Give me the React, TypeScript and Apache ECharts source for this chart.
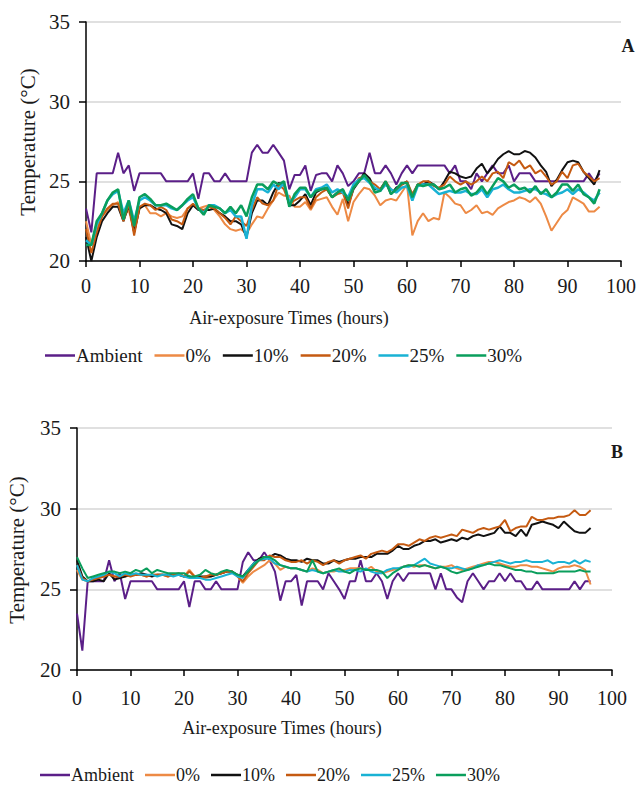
import { useEffect, useRef } from "react";
import * as echarts from "echarts";

// hourly readings, 0..96 h
const hours: number[] = Array.from({ length: 97 }, (_, i) => i);

const seriesNames = ["Ambient", "0%", "10%", "20%", "25%", "30%"];
const seriesColors = ["#5b1f88", "#ed8a45", "#111111", "#c55a11", "#19b2d4", "#0a9e5c"];

const xTicks = [0, 10, 20, 30, 40, 50, 60, 70, 80, 90, 100];
const yTicks = [20, 25, 30, 35];

// Panel A
const aAmbient = [
  23.3, 21.8, 25.5, 25.5, 25.5, 25.5, 26.8, 25.5, 26.0, 24.4,
  25.5, 25.5, 25.5, 25.5, 25.5, 25.0, 25.0, 25.0, 25.0, 25.0,
  25.5, 23.9, 25.5, 25.5, 25.0, 25.0, 25.5, 25.0, 25.0, 25.0,
  25.0, 26.8, 27.3, 26.8, 26.8, 27.3, 26.8, 26.3, 24.5, 25.4,
  25.4, 26.0, 24.4, 25.4, 25.5, 25.5, 25.0, 26.0, 25.5, 24.7,
  25.0, 25.5, 25.5, 26.8, 25.5, 25.5, 26.0, 25.5, 24.8, 25.5,
  26.0, 25.5, 26.0, 26.0, 26.0, 26.0, 26.0, 26.0, 25.5, 26.0,
  25.0, 25.0, 24.5, 25.5, 25.0, 25.5, 26.0, 25.5, 25.5, 26.0,
  25.0, 25.5, 25.5, 25.5, 25.0, 25.0, 25.0, 25.0, 25.0, 25.0,
  25.0, 25.0, 25.0, 25.0, 25.5, 25.0, 25.5,
];
const a0 = [
  22.5, 21.0, 22.0, 22.8, 23.2, 23.5, 23.7, 22.8, 23.2, 21.8,
  23.3, 23.5, 23.0, 23.0, 22.8, 23.0, 22.8, 22.7, 22.8, 23.3,
  23.5, 23.3, 23.4, 23.5, 23.2, 22.8, 22.3, 22.0, 21.9, 22.0,
  21.7, 22.3, 22.8, 22.7, 23.3, 23.8, 24.3, 24.1, 24.1, 23.4,
  23.4, 23.7, 23.2, 23.8, 23.9, 24.0, 23.4, 22.9, 23.9, 22.5,
  23.7, 24.2, 24.6, 24.5, 24.1, 23.5, 23.8, 23.9, 23.8, 24.3,
  24.8, 21.6, 22.5, 23.0, 22.5, 22.7, 22.6, 24.3, 24.0, 23.6,
  23.5, 23.0, 23.2, 23.5, 23.0, 23.1, 22.9, 23.3, 23.5, 23.7,
  23.8, 24.0, 23.9, 23.7, 24.0, 23.6, 22.8, 21.9, 22.4, 22.9,
  23.2, 24.0, 23.8, 23.6, 23.1, 23.1, 23.4,
];
const a10 = [
  21.5, 20.0, 21.5, 22.5, 23.0, 23.4, 23.4, 22.5, 23.5, 21.8,
  23.3, 23.5, 23.5, 23.3, 23.2, 23.0, 22.3, 22.2, 22.0, 23.0,
  23.5, 23.2, 23.2, 23.2, 23.3, 23.0, 22.8, 22.5, 22.5, 22.3,
  21.5, 23.0, 23.8, 23.8, 23.5, 24.3, 24.9, 24.8, 23.5, 23.5,
  23.8, 24.2, 23.5, 24.3, 24.5, 24.5, 24.0, 24.3, 24.5, 23.5,
  24.5, 25.0, 25.5, 25.2, 24.5, 24.5, 25.0, 24.2, 24.6, 24.8,
  25.0, 24.0, 24.8, 24.8, 25.0, 24.8, 24.5, 25.0, 25.6, 25.5,
  25.3, 25.2, 25.3, 25.8, 26.1, 25.5, 25.9, 26.4, 26.7, 26.9,
  26.7, 26.7, 26.9, 26.8, 26.5, 26.0, 25.6, 24.7, 25.1, 25.7,
  26.2, 26.3, 26.2, 25.6, 25.2, 24.8, 25.7,
];
const a20 = [
  22.0, 20.5, 21.8, 22.8, 23.3, 23.6, 23.6, 22.5, 23.6, 21.6,
  23.4, 23.6, 23.5, 23.2, 23.4, 23.2, 22.6, 22.5, 22.3, 23.3,
  23.6, 23.3, 23.2, 23.4, 23.3, 23.0, 22.7, 22.3, 22.8, 22.5,
  22.2, 23.2, 24.0, 23.6, 23.5, 23.8, 24.8, 24.5, 23.6, 23.8,
  24.0, 24.0, 23.3, 24.0, 24.3, 24.5, 24.0, 24.2, 24.3, 23.3,
  24.6, 25.2, 25.3, 25.0, 24.8, 24.5, 25.0, 24.5, 24.3, 24.8,
  25.0, 24.2, 24.8, 25.0, 25.0, 24.7, 24.6, 24.8, 25.3, 25.0,
  24.8, 25.0, 24.8, 25.0, 25.3, 25.0, 25.5, 25.6, 25.2, 26.2,
  26.0, 26.3, 25.8, 26.0, 25.5, 25.7, 25.3, 24.8, 25.0, 25.6,
  25.2, 26.0, 26.1, 25.6, 25.3, 25.0, 25.2,
];
const a25 = [
  21.3, 21.0, 22.3, 23.0, 23.8, 24.2, 24.4, 23.0, 23.8, 22.5,
  23.8, 24.0, 23.8, 23.5, 23.5, 23.5, 23.3, 23.2, 23.5, 23.8,
  24.0, 23.3, 23.0, 23.5, 23.5, 23.3, 23.0, 23.2, 22.8, 22.8,
  21.4, 23.5, 24.5, 24.5, 24.3, 24.8, 24.5, 24.9, 23.7, 24.0,
  24.5, 24.5, 24.0, 24.5, 24.6, 24.8, 24.3, 24.5, 24.3, 24.0,
  24.8, 25.1, 25.2, 24.9, 24.6, 24.4, 24.8, 24.5, 24.3, 24.6,
  24.7, 23.8, 24.7, 24.8, 24.8, 24.5, 24.2, 24.3, 24.4, 24.3,
  24.3, 24.4, 24.2, 24.2, 24.5, 24.0, 24.5, 24.6, 24.8, 24.5,
  24.3, 24.3, 24.4, 24.5, 24.5, 24.3, 24.2, 24.0, 24.2, 24.3,
  24.5, 24.2, 24.5, 24.3, 24.0, 23.8, 24.3,
];
const a30 = [
  21.0, 21.0, 22.5, 23.0, 23.8, 24.3, 24.5, 22.6, 23.8, 22.2,
  24.0, 24.2, 23.9, 23.5, 23.5, 23.6, 23.4, 23.2, 23.5, 23.9,
  24.2, 23.3, 22.9, 23.5, 23.4, 23.3, 23.0, 23.4, 23.0, 23.5,
  22.8, 24.0, 24.8, 24.8, 24.5, 25.0, 24.8, 25.0, 23.4, 24.2,
  24.6, 24.6, 24.0, 24.4, 24.5, 24.6, 24.0, 24.3, 24.5, 23.8,
  24.6, 25.0, 25.4, 25.0, 24.3, 24.4, 25.0, 24.2, 24.5, 24.9,
  24.9, 24.0, 24.8, 24.7, 24.8, 24.8, 24.5, 24.6, 24.8, 24.3,
  24.5, 24.6, 24.1, 24.3, 24.7, 24.2, 24.7, 25.2, 25.0, 24.6,
  24.8, 24.5, 24.6, 24.3, 24.7, 24.2, 24.5, 24.0, 24.3, 24.8,
  24.8, 24.4, 24.8, 24.2, 24.0, 23.6, 24.5,
];

// Panel B
const bAmbient = [
  23.5, 21.2, 25.5, 25.5, 25.5, 25.5, 26.8, 25.5, 26.0, 24.4,
  25.5, 25.5, 25.5, 25.5, 25.5, 25.0, 25.0, 25.0, 25.0, 25.0,
  25.5, 23.9, 25.5, 25.5, 25.0, 25.0, 25.5, 25.0, 25.0, 25.0,
  25.0, 26.7, 27.3, 26.8, 26.8, 27.3, 26.8, 26.1, 24.3, 25.5,
  25.5, 25.9, 24.0, 25.5, 25.5, 25.5, 25.0, 26.0, 25.5, 25.0,
  24.4, 25.5, 25.5, 26.8, 25.5, 25.5, 26.0, 25.5, 24.4, 25.5,
  26.0, 25.5, 26.0, 26.0, 26.0, 26.0, 26.0, 25.0, 26.0, 25.0,
  25.0, 24.5, 24.2, 25.5, 26.0, 25.5, 25.0, 25.5, 25.5, 26.0,
  25.5, 26.0, 25.5, 25.5, 25.0, 25.0, 25.5, 25.0, 25.0, 25.0,
  25.0, 25.0, 25.0, 25.5, 25.0, 25.5, 25.5,
];
const b0 = [
  26.2, 25.6, 25.5, 25.6, 25.7, 25.8, 25.9, 25.8, 25.8, 25.8,
  25.9, 25.9, 25.9, 25.8, 25.9, 25.9, 25.9, 25.8, 25.9, 25.9,
  25.8, 26.2, 25.8, 25.7, 25.7, 25.8, 25.9, 26.0, 26.1, 26.1,
  25.8, 25.4, 25.8, 26.1, 26.3, 26.5, 26.8, 26.6, 26.2, 26.4,
  26.3, 26.3, 26.2, 26.1, 26.3, 26.2, 26.0, 26.1, 26.1, 26.2,
  26.2, 26.3, 26.3, 26.3, 26.2, 26.4, 26.1, 26.0, 26.1, 26.2,
  26.3, 26.4, 26.5, 26.4, 26.5, 26.5, 26.4, 26.3, 26.4, 26.4,
  26.5, 26.3, 26.2, 26.3, 26.4, 26.5, 26.6, 26.7, 26.7, 26.6,
  26.5, 26.4, 26.4, 26.5, 26.5, 26.4, 26.4, 26.3, 26.2, 26.1,
  26.3, 26.4, 26.4, 26.5, 26.4, 26.2, 25.3,
];
const b10 = [
  26.8, 25.8, 25.5, 25.5, 25.6, 25.5, 26.0, 25.6, 25.7, 25.8,
  25.9, 25.9, 26.0, 25.9, 25.8, 25.9, 25.9, 25.9, 25.9, 25.9,
  25.8, 25.8, 25.7, 25.8, 25.8, 25.8, 25.9, 26.0, 26.1, 26.1,
  25.9, 25.8, 26.2, 26.6, 26.9, 27.0, 27.0, 27.2, 27.1, 26.9,
  26.8, 26.8, 26.7, 26.9, 26.8, 26.8, 26.6, 26.6, 26.8, 26.7,
  26.8, 26.9, 26.9, 27.0, 27.0, 27.0, 27.2, 27.2, 27.2, 27.4,
  27.7, 27.5, 27.5, 27.7, 27.8, 28.0, 28.0, 28.1, 27.9, 28.0,
  28.1, 28.0, 28.2, 28.1, 28.3, 28.4, 28.3, 28.4, 28.5, 28.9,
  28.5, 28.5, 28.3, 28.7, 28.3, 29.0, 29.1, 29.2, 29.1, 29.0,
  28.8, 29.2, 28.9, 28.6, 28.5, 28.5, 28.8,
];
const b20 = [
  26.5, 25.7, 25.5, 25.6, 25.7, 25.8, 25.9, 25.8, 25.8, 25.9,
  25.8, 25.9, 25.9, 25.8, 25.9, 25.9, 25.9, 25.8, 25.9, 26.0,
  25.8, 26.1, 25.8, 25.7, 25.8, 25.9, 25.9, 26.0, 26.1, 26.1,
  25.8, 25.5, 26.0, 26.4, 26.8, 26.8, 27.1, 27.0, 27.0, 26.8,
  26.7, 26.7, 26.8, 26.6, 26.8, 26.7, 26.5, 26.7, 26.8, 26.6,
  26.8, 26.9, 27.0, 27.1, 26.9, 27.2, 27.3, 27.4, 27.3, 27.5,
  27.8, 27.8, 27.7, 27.9, 28.1, 28.0, 28.2, 28.3, 28.2, 28.3,
  28.4, 28.3, 28.7, 28.6, 28.5, 28.7, 28.8, 28.7, 28.8, 28.9,
  29.3, 28.6, 28.8, 28.9, 28.9, 29.5, 29.3, 29.3, 29.4, 29.4,
  29.5, 29.5, 29.6, 29.9, 29.6, 29.6, 29.9,
];
const b25 = [
  26.5, 25.6, 25.5, 25.7, 25.8, 25.9, 26.1, 26.0, 25.8, 26.0,
  25.9, 26.0, 25.9, 25.9, 25.9, 25.8, 25.9, 25.9, 25.8, 25.9,
  25.8, 25.7, 25.7, 25.7, 25.6, 25.6, 25.7, 25.8, 25.9, 26.0,
  25.8, 25.7, 26.2, 26.6, 26.8, 26.9, 26.9, 26.6, 26.5, 26.4,
  26.3, 26.3, 26.2, 26.1, 26.2, 26.1, 26.0, 26.1, 26.2, 26.1,
  26.1, 26.2, 26.2, 26.1, 26.3, 26.1, 26.0, 26.0, 26.2, 26.3,
  26.3, 26.4, 26.4, 26.5, 26.7, 26.9, 26.6, 26.5, 26.4, 26.3,
  26.3, 26.4, 26.3, 26.2, 26.3, 26.5, 26.5, 26.6, 26.7, 26.8,
  26.7, 26.6, 26.7, 26.7, 26.8, 26.7, 26.7, 26.7, 26.8, 26.6,
  26.7, 26.7, 26.6, 26.8, 26.6, 26.8, 26.7,
];
const b30 = [
  27.0, 26.3, 25.7, 25.8, 25.9, 26.0, 26.1, 26.1, 26.0, 26.1,
  26.0, 26.2, 26.1, 26.3, 26.0, 26.2, 26.1, 26.0, 26.0, 26.0,
  26.0, 25.8, 25.8, 25.9, 26.2, 26.0, 25.9, 26.1, 26.2, 26.1,
  25.9, 25.8, 26.1, 26.5, 26.8, 27.0, 27.0, 26.8, 26.5, 26.4,
  26.3, 26.3, 26.2, 26.1, 26.8, 26.1, 26.0, 26.1, 26.2, 26.3,
  26.1, 26.0, 26.2, 26.3, 26.2, 26.2, 26.2, 26.1, 25.7, 26.0,
  26.2, 26.4, 26.5, 26.5, 26.4, 26.5, 26.4, 26.3, 26.4, 26.3,
  26.1, 26.0, 26.1, 26.2, 26.3, 26.4, 26.5, 26.6, 26.5, 26.5,
  26.4, 26.3, 26.2, 26.2, 26.1, 26.1, 26.0, 26.0, 26.0, 26.0,
  26.1, 26.1, 26.1, 26.1, 26.2, 26.1, 26.1,
];

const panelA = [aAmbient, a0, a10, a20, a25, a30];
const panelB = [bAmbient, b0, b10, b20, b25, b30];

const FONT = '"Liberation Serif", "Times New Roman", serif';
const TEXT = "#1a1a1a";

export default function App() {
  const ref = useRef<HTMLDivElement>(null);

  useEffect(() => {
    if (!ref.current) return;
    const chart = echarts.init(ref.current, undefined, { renderer: "svg" });

    const xAxisBase = (gridIndex: number, margin: number) => ({
      type: "value",
      gridIndex,
      min: xTicks[0],
      max: xTicks[xTicks.length - 1],
      interval: 10,
      axisLine: { show: true, onZero: false, lineStyle: { color: "#000", width: 1.5 } },
      axisTick: { show: true, length: 6, lineStyle: { color: "#000", width: 1.5 } },
      axisLabel: { fontFamily: FONT, fontSize: 20, color: TEXT, margin },
      splitLine: { show: false },
    });
    const yAxisBase = (gridIndex: number) => ({
      type: "value",
      gridIndex,
      min: yTicks[0],
      max: yTicks[yTicks.length - 1],
      interval: 5,
      axisLine: { show: true, lineStyle: { color: "#000", width: 1.5 } },
      axisTick: { show: true, length: 7, lineStyle: { color: "#000", width: 1.5 } },
      axisLabel: { fontFamily: FONT, fontSize: 21, color: TEXT, margin: 16 },
      splitLine: { show: true, lineStyle: { color: "#d6d6d6", width: 1.5 } },
    });

    const makeSeries = (panel: number[][], idx: number) =>
      panel.map((vals, si) => ({
        name: seriesNames[si],
        type: "line",
        xAxisIndex: idx,
        yAxisIndex: idx,
        symbol: "none",
        showSymbol: false,
        data: hours.map((h, i) => [h, vals[i]]),
        lineStyle: {
          color: seriesColors[si],
          width: idx === 0 && si >= 4 ? 2.5 : 2,
        },
        itemStyle: { color: seriesColors[si] },
      }));

    const legendBase = (left: number, top: number, size: number, gap: number) => ({
      data: seriesNames.map((n) => ({ name: n, icon: "rect" })),
      left,
      top,
      orient: "horizontal",
      itemWidth: 30,
      itemHeight: 2.5,
      itemGap: gap,
      selectedMode: false,
      textStyle: { fontFamily: FONT, fontSize: size, color: TEXT, padding: [0, 0, 0, -4] },
    });

    const textEl = (text: string, x: number, y: number, size: number, bold = false, rotation = 0) => ({
      type: "text",
      x,
      y,
      rotation,
      style: {
        text,
        fontFamily: FONT,
        fontSize: size,
        fontWeight: bold ? "bold" : "normal",
        fill: TEXT,
        align: "center",
        verticalAlign: "middle",
        textAlign: "center",
        textVerticalAlign: "middle",
      },
    });

    chart.setOption({
      animation: false,
      backgroundColor: "#ffffff",
      grid: [
        { left: 86, right: 17, top: 22, height: 239, containLabel: false },
        { left: 77, right: 27, top: 428, height: 242, containLabel: false },
      ],
      xAxis: [xAxisBase(0, 15), xAxisBase(1, 18)],
      yAxis: [yAxisBase(0), yAxisBase(1)],
      legend: [legendBase(40, 341, 19, 12), legendBase(35, 761, 18, 11)],
      series: [...makeSeries(panelA, 0), ...makeSeries(panelB, 1)],
      graphic: [
        textEl("Temperature (°C)", 28, 142, 21, false, Math.PI / 2),
        textEl("Temperature (°C)", 17, 550, 21, false, Math.PI / 2),
        textEl("Air-exposure Times (hours)", 289, 318, 18),
        textEl("Air-exposure Times (hours)", 282, 728, 18),
        textEl("A", 628, 46, 18, true),
        textEl("B", 617, 452, 18, true),
      ],
    });

    return () => chart.dispose();
  }, []);

  return (
    <div
      ref={ref}
      style={{ position: "absolute", left: 0, top: 0, width: 639, height: 787 }}
    />
  );
}
